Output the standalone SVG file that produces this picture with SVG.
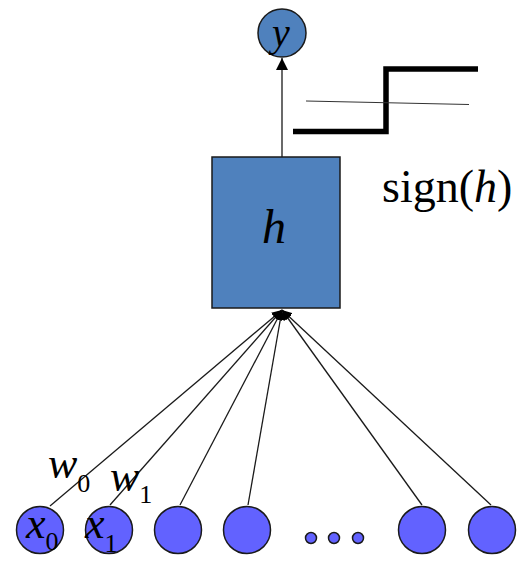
<svg xmlns="http://www.w3.org/2000/svg" width="518" height="561" viewBox="0 0 518 561">
<style>
.lbl{font-family:"Liberation Serif","Times New Roman",serif;fill:#000}
.it{font-style:italic}
.inp{fill:#6262FF;stroke:#1a1a1a;stroke-width:1.5}
.conn{stroke:#1a1a1a;stroke-width:1.3;fill:none}
</style>
<defs>
<marker id="ah" viewBox="0 0 10 10" refX="10" refY="5" markerWidth="10" markerHeight="10" markerUnits="userSpaceOnUse" orient="auto">
<path d="M0,0 L10,5 L0,10 z" fill="#000"/>
</marker>
<marker id="ah2" viewBox="0 0 10 10" refX="10" refY="5" markerWidth="12" markerHeight="12" markerUnits="userSpaceOnUse" orient="auto">
<path d="M0,0 L10,5 L0,10 z" fill="#000"/>
</marker>
</defs>
<g id="connectors">
<line class="conn" x1="50" y1="506" x2="282" y2="310" marker-end="url(#ah)"/>
<line class="conn" x1="110" y1="505" x2="282" y2="310" marker-end="url(#ah)"/>
<line class="conn" x1="180" y1="505" x2="282" y2="310" marker-end="url(#ah)"/>
<line class="conn" x1="248" y1="505" x2="282" y2="310" marker-end="url(#ah)"/>
<line class="conn" x1="422" y1="505" x2="282" y2="310" marker-end="url(#ah)"/>
<line class="conn" x1="491" y1="505" x2="282" y2="310" marker-end="url(#ah)"/>
<line class="conn" x1="282" y1="157" x2="282" y2="58" marker-end="url(#ah2)"/>
</g>
<g id="step">
<polyline points="293,131.5 386,131.5 386,69 478,69" fill="none" stroke="#000" stroke-width="5.5"/>
<line x1="306" y1="101" x2="469" y2="104.5" stroke="#333" stroke-width="1.2"/>
</g>
<g id="output">
<circle cx="282" cy="33" r="24" fill="#4F81BD" stroke="#1a1a1a" stroke-width="1.5"/>
<text class="lbl it" x="281" y="46" font-size="40" text-anchor="middle">y</text>
</g>
<g id="hidden">
<rect x="212" y="157" width="128" height="151" fill="#4F81BD" stroke="#1a1a1a" stroke-width="1.5"/>
<text class="lbl it" x="274" y="243" font-size="48" text-anchor="middle">h</text>
</g>
<text class="lbl" x="382" y="202" font-size="46">sign(<tspan class="it">h</tspan>)</text>
<g id="x0">
<circle class="inp" cx="40" cy="530" r="23.5"/>
<text class="lbl it" x="26" y="538" font-size="44">x<tspan font-size="26" font-style="normal" dy="12">0</tspan></text>
</g>
<g id="x1">
<circle class="inp" cx="109" cy="530" r="23.5"/>
<text class="lbl it" x="85" y="538" font-size="44">x<tspan font-size="26" font-style="normal" dy="14">1</tspan></text>
</g>
<g id="n3"><circle class="inp" cx="178" cy="530" r="23.5"/></g>
<g id="n4"><circle class="inp" cx="247" cy="530" r="23.5"/></g>
<g id="dots">
<circle class="inp" cx="311" cy="538" r="5.5"/>
<circle class="inp" cx="334" cy="538" r="5.5"/>
<circle class="inp" cx="358" cy="538" r="5.5"/>
</g>
<g id="n5"><circle class="inp" cx="422" cy="530" r="23.5"/></g>
<g id="n6"><circle class="inp" cx="492" cy="530" r="23.5"/></g>
<text class="lbl it" x="48" y="478" font-size="44">w<tspan font-size="26" font-style="normal" dy="14">0</tspan></text>
<text class="lbl it" x="110" y="491" font-size="44">w<tspan font-size="26" font-style="normal" dy="12">1</tspan></text>
</svg>
